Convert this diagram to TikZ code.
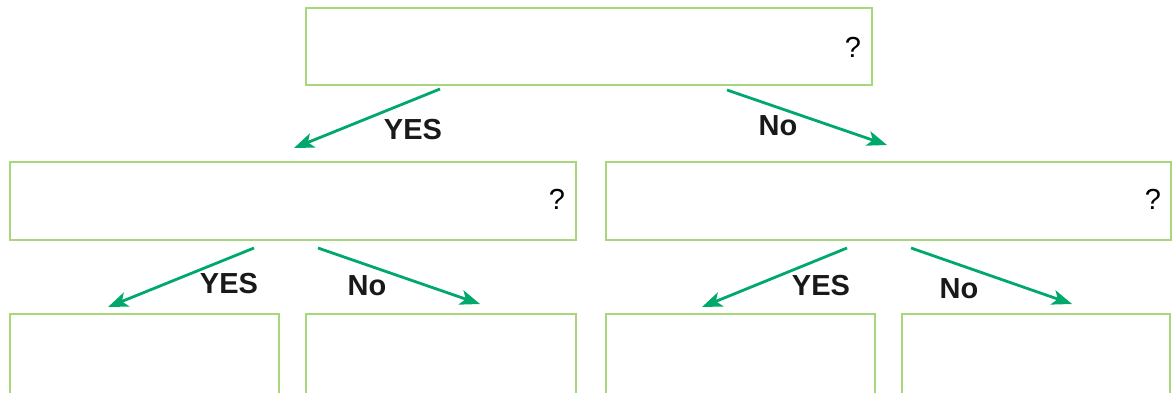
\documentclass[tikz,border=0pt]{standalone}
\usepackage{fontspec}
\setmainfont{Liberation Sans}
\usetikzlibrary{arrows.meta}
\definecolor{boxgreen}{RGB}{168,214,122}
\definecolor{arrgreen}{RGB}{0,168,108}
\tikzset{
  qbox/.style={draw=boxgreen, line width=1.5pt, inner sep=0pt, outer sep=0pt, rectangle},
  qmark/.style={font=\fontsize{29}{30}\selectfont, inner sep=0pt, anchor=center},
  lbl/.style={font=\fontsize{29}{30}\selectfont\bfseries, inner sep=0pt, anchor=center, text=black!90},
  conn/.style={draw=arrgreen, line width=2.8pt, -{Stealth[length=20pt,width=15pt,inset=5pt]}}
}
\begin{document}
\begin{tikzpicture}[x=1pt,y=-1pt]
\useasboundingbox (0,0) rectangle (1172,392);
\clip (0,0) rectangle (1172,392);
% boxes
\node[qbox, minimum width=566pt, minimum height=77pt] (top) at (589,46.5) {};
\node[qbox, minimum width=566pt, minimum height=78pt] (ml) at (293,201) {};
\node[qbox, minimum width=565pt, minimum height=78pt] (mr) at (888.5,201) {};
\node[qbox, minimum width=269pt, minimum height=100pt] (b1) at (144.5,364) {};
\node[qbox, minimum width=270pt, minimum height=100pt] (b2) at (441,364) {};
\node[qbox, minimum width=269pt, minimum height=100pt] (b3) at (740.5,364) {};
\node[qbox, minimum width=268pt, minimum height=100pt] (b4) at (1036,364) {};
% question marks
\node[qmark] (q1) at (853,47) {?};
\node[qmark] (q2) at (557,199) {?};
\node[qmark] (q3) at (1153,199) {?};
% connector end points
\coordinate (s1) at (440,89);  \coordinate (e1) at (294,148);
\coordinate (s2) at (727,90);  \coordinate (e2) at (887,145);
\coordinate (s3) at (254,248); \coordinate (e3) at (108,307);
\coordinate (s4) at (318,248); \coordinate (e4) at (480,304);
\coordinate (s5) at (847,248); \coordinate (e5) at (702,307);
\coordinate (s6) at (911,248); \coordinate (e6) at (1072,304);
\draw[conn] (s1) -- (e1);
\draw[conn] (s2) -- (e2);
\draw[conn] (s3) -- (e3);
\draw[conn] (s4) -- (e4);
\draw[conn] (s5) -- (e5);
\draw[conn] (s6) -- (e6);
% labels
\node[lbl] (l1) at (413,130) {YES};
\node[lbl] (l2) at (778,126) {No};
\node[lbl] (l3) at (229,284) {YES};
\node[lbl] (l4) at (367,286) {No};
\node[lbl] (l5) at (821,286) {YES};
\node[lbl] (l6) at (959,289) {No};
\end{tikzpicture}
\end{document}
